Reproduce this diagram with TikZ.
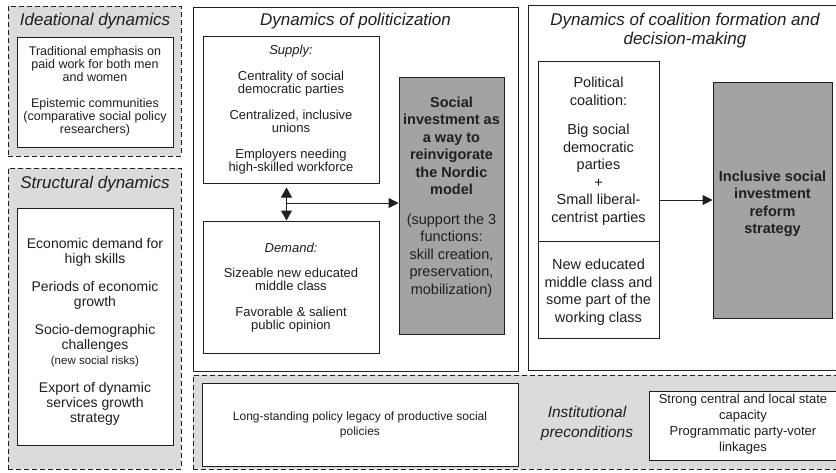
\documentclass[tikz,border=0pt]{standalone}
\usepackage{fontspec}
\setmainfont{Liberation Sans}
\usetikzlibrary{arrows.meta}
\definecolor{lightbg}{gray}{0.86}
\definecolor{midgray}{gray}{0.64}
\definecolor{ink}{gray}{0.12}
\tikzset{
  bg/.style={draw=ink, fill=lightbg, dash pattern=on 5pt off 3pt, line width=1pt, inner sep=0pt},
  wbox/.style={draw=ink, fill=white, line width=1pt, inner sep=0pt},
  gbox/.style={draw=ink, fill=midgray, line width=1pt, inner sep=0pt},
  ttl/.style={font=\fontsize{17}{19}\selectfont\itshape, text=ink, align=center, inner sep=0pt},
  tsmall/.style={font=\fontsize{12.5}{13}\selectfont, text=ink, align=center, inner sep=0pt},
  tmid/.style={font=\fontsize{13}{13.5}\selectfont, text=ink, align=center, inner sep=0pt},
  tbig/.style={font=\fontsize{14}{15}\selectfont, text=ink, align=center, inner sep=0pt},
  tgray/.style={font=\fontsize{14.5}{17.5}\selectfont, text=ink, align=center, inner sep=0pt},
  tcoal/.style={font=\fontsize{14.5}{17.5}\selectfont, text=ink, align=center, inner sep=0pt},
  arr/.style={-{Triangle[length=10pt,width=10pt]}, line width=1pt, draw=ink},
  dblarr/.style={{Triangle[length=10pt,width=11pt]}-{Triangle[length=10pt,width=11pt]}, line width=1pt, draw=ink},
}
\begin{document}
\begin{tikzpicture}[x=1pt,y=-1pt]
\useasboundingbox (0,0) rectangle (836,472);
\fill[white] (0,0) rectangle (836,472);

% ---------- left column ----------
\node[bg, minimum width=173pt, minimum height=150pt] (ideabg) at (94.5,81) {};
\node[ttl] (ideattl) at (95,21) {Ideational dynamics};
\node[wbox, minimum width=156pt, minimum height=110pt] (ideabox) at (95,92) {};
\node[tsmall] (ideatxt) at (95,91.5) {Traditional emphasis on\\paid work for both men\\and women\\[13pt]Epistemic communities\\(comparative social policy\\researchers)};

\node[bg, minimum width=173pt, minimum height=301pt] (structbg) at (94.5,318.5) {};
\node[ttl] (structttl) at (95,184) {Structural dynamics};
\node[wbox, minimum width=156pt, minimum height=237pt] (structbox) at (95,326.5) {};
\node[tbig] (structtxt) at (95,332) {Economic demand for\\high skills\\[13pt]Periods of economic\\growth\\[13pt]Socio-demographic\\challenges\\{\fontsize{11.5}{12.5}\selectfont (new social risks)}\\[13pt]Export of dynamic\\services growth\\strategy};

% ---------- politicization ----------
\node[wbox, minimum width=325pt, minimum height=364pt] (polbox) at (355.5,189) {};
\node[ttl] (polttl) at (355.5,21) {Dynamics of politicization};
\node[wbox, minimum width=176pt, minimum height=147pt] (supply) at (291,109.5) {};
\node[tmid] (supplytxt) at (291,110) {\textit{Supply:}\\[12pt]Centrality of social\\democratic parties\\[12pt]Centralized, inclusive\\unions\\[12pt]Employers needing\\high-skilled workforce};
\node[wbox, minimum width=176pt, minimum height=132pt] (demand) at (291,287) {};
\node[tmid] (demandtxt) at (291,288) {\textit{Demand:}\\[11pt]Sizeable new educated\\middle class\\[12pt]Favorable \& salient\\public opinion};
\node[gbox, minimum width=105pt, minimum height=257pt] (sigray) at (451.5,205.5) {};
\node[tgray] (sitxt) at (451.5,197) {\textbf{Social}\\\textbf{investment as}\\\textbf{a way to}\\\textbf{reinvigorate}\\\textbf{the Nordic}\\\textbf{model}\\[12pt](support the 3\\functions:\\skill creation,\\preservation,\\mobilization)};

\coordinate (j) at (286.5,203);
\draw[dblarr] ([yshift=-4pt]supply.south -| j) -- (demand.north -| j);
\draw[arr] (j) -- (sigray.west |- j);

% ---------- coalition ----------
\node[wbox, minimum width=317pt, minimum height=365pt] (coalbox) at (686.5,187.5) {};
\node[ttl] (coalttl) at (685,31) {Dynamics of coalition formation and\\decision-making};
\node[wbox, minimum width=121pt, minimum height=180pt] (coalup) at (598.5,151) {};
\node[wbox, minimum width=121pt, minimum height=97pt] (coaldown) at (598.5,289.5) {};
\node[tcoal] (coaltxt) at (598.5,151) {Political\\coalition:\\[12pt]Big social\\democratic\\parties\\+\\Small liberal-\\centrist parties};
\node[tcoal] (classtxt) at (598.5,292) {New educated\\middle class and\\some part of the\\working class};
\node[gbox, minimum width=119pt, minimum height=236pt] (isgray) at (772.5,200) {};
\node[tgray] (istxt) at (772.5,204) {\textbf{Inclusive social}\\\textbf{investment}\\\textbf{reform}\\\textbf{strategy}};
\draw[arr] (coalup.east |- isgray.west) -- (isgray.west);

% ---------- institutional ----------
\node[bg, minimum width=652pt, minimum height=94pt] (instbg) at (519,422) {};
\node[wbox, minimum width=316pt, minimum height=83pt] (legacy) at (360,424.5) {};
\node[tsmall, font=\fontsize{12}{15}\selectfont] (legacytxt) at (360,424.5) {Long-standing policy legacy of productive social\\policies};
\node[ttl, font=\fontsize{15.5}{20}\selectfont\itshape] (insttxt) at (587,423) {Institutional\\preconditions};
\node[wbox, minimum width=188pt, minimum height=69pt] (capacity) at (743,425.5) {};
\node[tmid, font=\fontsize{13}{16}\selectfont] (captxt) at (743,424.5) {Strong central and local state\\capacity\\Programmatic party-voter\\linkages};
\end{tikzpicture}
\end{document}
